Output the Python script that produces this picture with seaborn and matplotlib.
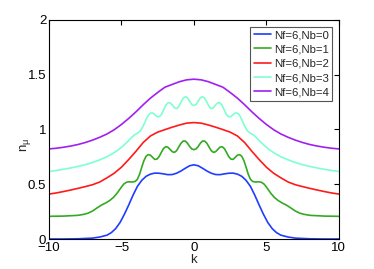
import numpy as np
import pandas as pd
import matplotlib
matplotlib.use("Agg")
import matplotlib.pyplot as plt
import seaborn as sns
from matplotlib.lines import Line2D

# ---- data ----
labels = ["Nf=6,Nb=0", "Nf=6,Nb=1", "Nf=6,Nb=2", "Nf=6,Nb=3", "Nf=6,Nb=4"]
colors = ["#1f3cff", "#33aa22", "#ff1a1a", "#7fffd0", "#a020f0"]

k_nb0 = [-10, -9, -8, -7, -6.5, -6, -5.7, -5.4, -5.1, -4.8, -4.5, -4.2, -3.9, -3.6, -3.3,
         -3.0, -2.7, -2.4, -2.1, -1.8, -1.5, -1.2, -0.9, -0.6, -0.3, 0,
         0.3, 0.6, 0.9, 1.2, 1.5, 1.8, 2.1, 2.4, 2.7, 3.0, 3.3, 3.6, 3.9, 4.2, 4.5,
         4.8, 5.1, 5.4, 5.7, 6.0, 6.5, 7, 8, 9, 10]
n_nb0 = [0.0, 0.0, 0.002, 0.008, 0.018, 0.035, 0.058, 0.095, 0.150, 0.225, 0.310, 0.400, 0.480, 0.535, 0.572,
         0.592, 0.601, 0.600, 0.594, 0.587, 0.588, 0.600, 0.620, 0.645, 0.668, 0.677,
         0.668, 0.645, 0.620, 0.600, 0.588, 0.587, 0.594, 0.600, 0.601, 0.592, 0.572, 0.535, 0.480, 0.400, 0.310,
         0.225, 0.150, 0.095, 0.058, 0.035, 0.018, 0.008, 0.002, 0.0, 0.0]

k_nb1 = [-10, -9, -8, -7.6, -7.3, -7.0, -6.7, -6.4, -6.1, -5.8, -5.55, -5.3, -5.05, -4.85, -4.65,
         -4.45, -4.25, -4.05, -3.9, -3.75, -3.6, -3.45, -3.3, -3.15, -3.0, -2.85, -2.7, -2.55,
         -2.4, -2.25, -2.1, -1.95, -1.8, -1.65, -1.5, -1.35, -1.2, -1.05, -0.9, -0.75, -0.6,
         -0.45, -0.3, -0.15, 0,
         0.15, 0.3, 0.45, 0.6, 0.75, 0.9, 1.05, 1.2, 1.35, 1.5, 1.65, 1.8, 1.95, 2.1, 2.25,
         2.4, 2.55, 2.7, 2.85, 3.0, 3.15, 3.3, 3.45, 3.6, 3.75, 3.9, 4.05, 4.25, 4.45, 4.65,
         4.85, 5.05, 5.3, 5.55, 5.8, 6.1, 6.4, 6.7, 7.0, 7.3, 7.6, 8, 9, 10]
n_nb1 = [0.207, 0.209, 0.216, 0.225, 0.236, 0.255, 0.282, 0.308, 0.328, 0.352, 0.380, 0.418, 0.465, 0.500, 0.518,
         0.522, 0.520, 0.525, 0.545, 0.590, 0.655, 0.715, 0.755, 0.770, 0.765, 0.745, 0.726, 0.729,
         0.752, 0.790, 0.825, 0.842, 0.838, 0.818, 0.797, 0.790, 0.805, 0.838, 0.872, 0.893, 0.894,
         0.875, 0.845, 0.822, 0.815,
         0.822, 0.845, 0.875, 0.894, 0.893, 0.872, 0.838, 0.805, 0.790, 0.797, 0.818, 0.838, 0.842, 0.825, 0.790,
         0.752, 0.729, 0.726, 0.745, 0.765, 0.770, 0.755, 0.715, 0.655, 0.590, 0.545, 0.525, 0.520, 0.522, 0.518,
         0.500, 0.465, 0.418, 0.380, 0.352, 0.328, 0.308, 0.282, 0.255, 0.236, 0.225, 0.216, 0.209, 0.207]

k_nb2 = [-10, -9.5, -9, -8.5, -8, -7.5, -7, -6.5, -6, -5.5, -5, -4.5, -4, -3.5, -3, -2.5, -2, -1.5, -1, -0.5, 0,
         0.5, 1, 1.5, 2, 2.5, 3, 3.5, 4, 4.5, 5, 5.5, 6, 6.5, 7, 7.5, 8, 8.5, 9, 9.5, 10]
n_nb2 = [0.410, 0.420, 0.433, 0.447, 0.462, 0.478, 0.495, 0.520, 0.558, 0.600, 0.655, 0.725, 0.800, 0.880, 0.940,
         0.975, 0.998, 1.020, 1.040, 1.057, 1.062,
         1.057, 1.040, 1.020, 0.998, 0.975, 0.940, 0.880, 0.800, 0.725, 0.655, 0.600, 0.558, 0.520, 0.495, 0.478,
         0.462, 0.447, 0.433, 0.420, 0.410]

k_nb3 = [-10, -9.5, -9, -8.5, -8, -7.5, -7, -6.5, -6, -5.6, -5.2, -4.9, -4.6, -4.35, -4.1, -3.9, -3.7, -3.5,
         -3.3, -3.12, -2.97, -2.82, -2.67, -2.52, -2.37, -2.22, -2.07, -1.92, -1.77, -1.62, -1.47, -1.32,
         -1.17, -1.02, -0.87, -0.72, -0.58, -0.45, -0.3, -0.15, 0,
         0.15, 0.3, 0.45, 0.58, 0.72, 0.87, 1.02, 1.17, 1.32, 1.47, 1.62, 1.77, 1.92, 2.07, 2.22, 2.37,
         2.52, 2.67, 2.82, 2.97, 3.12, 3.3, 3.5, 3.7, 3.9, 4.1, 4.35, 4.6, 4.9, 5.2, 5.6, 6, 6.5, 7,
         7.5, 8, 8.5, 9, 9.5, 10]
n_nb3 = [0.616, 0.625, 0.636, 0.648, 0.662, 0.678, 0.698, 0.722, 0.750, 0.780, 0.815, 0.848, 0.885, 0.920, 0.950,
         0.965, 0.985, 1.030, 1.090, 1.135, 1.150, 1.148, 1.130, 1.115, 1.117, 1.140, 1.185, 1.225, 1.244,
         1.240, 1.220, 1.195, 1.190, 1.215, 1.255, 1.288, 1.298, 1.288, 1.258, 1.228, 1.218,
         1.228, 1.258, 1.288, 1.298, 1.288, 1.255, 1.215, 1.190, 1.195, 1.220, 1.240, 1.244, 1.225, 1.185,
         1.140, 1.117, 1.115, 1.130, 1.148, 1.150, 1.135, 1.090, 1.030, 0.985, 0.965, 0.950, 0.920, 0.885,
         0.848, 0.815, 0.780, 0.750, 0.722, 0.698, 0.678, 0.662, 0.648, 0.636, 0.625, 0.616]

k_nb4 = [-10, -9.5, -9, -8.5, -8, -7.5, -7, -6.5, -6, -5.5, -5, -4.5, -4, -3.5, -3, -2.5, -2, -1.5, -1, -0.5, 0,
         0.5, 1, 1.5, 2, 2.5, 3, 3.5, 4, 4.5, 5, 5.5, 6, 6.5, 7, 7.5, 8, 8.5, 9, 9.5, 10]
n_nb4 = [0.822, 0.828, 0.837, 0.848, 0.862, 0.880, 0.902, 0.928, 0.958, 0.997, 1.045, 1.100, 1.160, 1.225, 1.285,
         1.337, 1.385, 1.410, 1.435, 1.452, 1.458,
         1.452, 1.435, 1.410, 1.385, 1.337, 1.285, 1.225, 1.160, 1.100, 1.045, 0.997, 0.958, 0.928, 0.902, 0.880,
         0.862, 0.848, 0.837, 0.828, 0.822]

x_ticks = [-10, -5, 0, 5, 10]
y_ticks = [0, 0.5, 1, 1.5, 2]
y_ticklabels = ["0", "0.5", "1", "1.5", "2"]

# ---- build long table ----
series = [(k_nb0, n_nb0), (k_nb1, n_nb1), (k_nb2, n_nb2), (k_nb3, n_nb3), (k_nb4, n_nb4)]
frames = []
for lab, (kk, nn) in zip(labels, series):
    frames.append(pd.DataFrame({"k": kk, "n": nn, "series": lab}))
df = pd.concat(frames, ignore_index=True)

sns.set_style("white")
plt.rcParams["font.family"] = ["Liberation Sans", "DejaVu Sans"]
plt.rcParams["mathtext.fontset"] = "custom"
plt.rcParams["mathtext.rm"] = "Liberation Sans"
plt.rcParams["mathtext.it"] = "Liberation Sans"

fig = plt.figure(figsize=(3.74, 2.69), dpi=100)
ax = fig.add_axes([0.131, 0.1115, 0.775, 0.815])

sns.lineplot(data=df, x="k", y="n", hue="series", hue_order=labels,
             palette=dict(zip(labels, colors)), estimator=None, sort=False,
             linewidth=1.2, ax=ax, legend=False)

ax.set_xlim(-10, 10)
ax.set_ylim(0, 2)
ax.set_xticks(x_ticks)
ax.set_yticks(y_ticks)
ax.set_yticklabels(y_ticklabels)
ax.tick_params(direction="in", length=3.6, width=0.8, top=True, right=True,
               labelsize=9.5, pad=2, colors="black")
for s in ax.spines.values():
    s.set_color("black")
    s.set_linewidth(0.8)

ax.set_xlabel("k", fontsize=9.5, labelpad=0)
ax.set_ylabel(r"n$_\mu$", fontsize=9.5)
ax.yaxis.set_label_coords(-0.055, 0.43)

handles = [Line2D([], [], color=c, lw=1.2) for c in colors]
leg = ax.legend(handles, labels, loc="upper right", fontsize=8.2, frameon=True, fancybox=False,
                framealpha=1, edgecolor="#555555", handlelength=1.5, handletextpad=0.25,
                labelspacing=0.38, borderpad=0.3, borderaxespad=0.6)
leg.get_frame().set_linewidth(0.8)

fig.savefig("out.png", dpi=100)
